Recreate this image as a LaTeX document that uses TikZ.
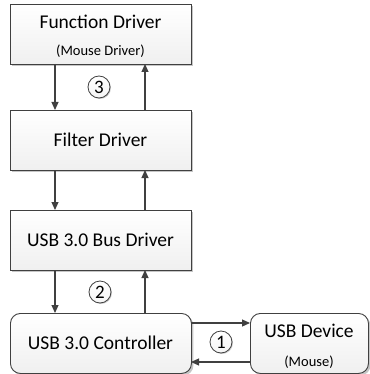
\documentclass[tikz,border=0pt]{standalone}
\usepackage{fontspec}
\setmainfont{Carlito}
\usetikzlibrary{arrows.meta,shadows}
\definecolor{edge}{HTML}{404040}
\tikzset{
  box/.style={draw=edge, line width=0.9pt, top color=white, bottom color=gray!12,
    minimum width=181pt, minimum height=60pt, anchor=north west, inner sep=0pt,
    drop shadow={shadow xshift=2pt, shadow yshift=-2pt, fill=gray!45, opacity=1}},
  rbox/.style={box, rounded corners=10pt},
  conn/.style={draw=edge, line width=1.2pt, -{Triangle[length=8pt,width=7pt]}},
  num/.style={circle, draw=edge, line width=0.8pt, top color=white, bottom color=gray!8,
    minimum size=22pt, inner sep=0pt,
    font=\fontsize{19}{20}\selectfont,
    drop shadow={shadow xshift=1pt, shadow yshift=-1pt, fill=gray!40, opacity=1}},
  big/.style={font=\fontsize{19.5}{22}\selectfont},
  small/.style={font=\fontsize{14.5}{16}\selectfont}
}
\begin{document}
\begin{tikzpicture}[x=1pt,y=-1pt]
\useasboundingbox (0,0) rectangle (369,374);
\node[box] (fd) at (10,4) {};
\node[big] (fdt) at (100.5,22) {Function Driver};
\node[small] (fds) at (100.5,51) {(Mouse Driver)};
\node[box] (flt) at (10,110) {};
\node[big] (fltt) at (100.5,140) {Filter Driver};
\node[box] (bus) at (10,210) {};
\node[big] (bust) at (100.5,240) {USB 3.0 Bus Driver};
\node[rbox] (ctl) at (10,313) {};
\node[big] (ctlt) at (100.5,343) {USB 3.0 Controller};
\node[rbox, minimum width=118pt] (dev) at (250,313) {};
\node[big] (devt) at (309,331) {USB Device};
\node[small] (devs) at (309,362) {(Mouse)};
% connectors
\coordinate (a1) at (55,64);  \coordinate (a2) at (55,110);
\coordinate (b1) at (145,110); \coordinate (b2) at (145,64);
\coordinate (c1) at (55,170); \coordinate (c2) at (55,210);
\coordinate (d1) at (145,210); \coordinate (d2) at (145,170);
\coordinate (e1) at (55,270); \coordinate (e2) at (55,313);
\coordinate (f1) at (145,313); \coordinate (f2) at (145,270);
\coordinate (g1) at (191,323); \coordinate (g2) at (250,323);
\coordinate (h1) at (250,362); \coordinate (h2) at (191,362);
\draw[conn] (a1) -- (a2);
\draw[conn] (b1) -- (b2);
\draw[conn] (c1) -- (c2);
\draw[conn] (d1) -- (d2);
\draw[conn] (e1) -- (e2);
\draw[conn] (f1) -- (f2);
\draw[conn] (g1) -- (g2);
\draw[conn] (h1) -- (h2);
\node[num] (n3) at (99,87) {3};
\node[num] (n2) at (100,292) {2};
\node[num] (n1) at (221,342) {1};
\end{tikzpicture}
\end{document}
